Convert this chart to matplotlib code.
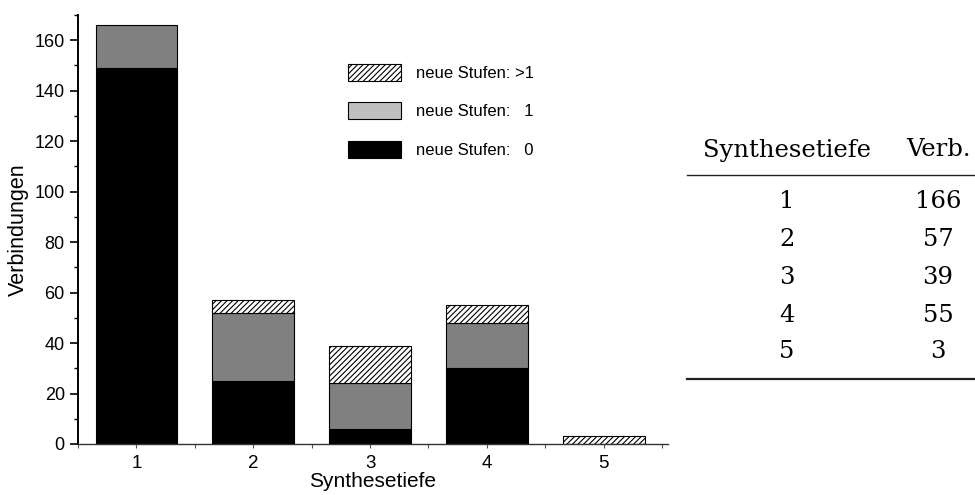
import matplotlib
matplotlib.use("Agg")
import matplotlib.pyplot as plt
from matplotlib.patches import Patch
from matplotlib.lines import Line2D
from matplotlib.ticker import MultipleLocator
import numpy as np

plt.rcParams['font.family'] = ['Liberation Sans', 'DejaVu Sans']
plt.rcParams['hatch.linewidth'] = 0.8

depths = [1, 2, 3, 4, 5]
steps0 = [149, 25, 6, 30, 0]      # neue Stufen: 0
steps1 = [17, 27, 18, 18, 0]      # neue Stufen: 1
steps_gt1 = [0, 5, 15, 7, 3]      # neue Stufen: >1
legend_labels = ["neue Stufen: >1", "neue Stufen:   1", "neue Stufen:   0"]
table_header = ["Synthesetiefe", "Verb."]
table_totals = [166, 57, 39, 55, 3]

fig = plt.figure(figsize=(9.75, 4.95), dpi=100)
ax = fig.add_axes([78/975, 1-444/495, 590/975, 429/495])

x = np.array(depths)
b0 = np.array(steps0)
b1 = np.array(steps1)
b2 = np.array(steps_gt1)
w = 0.7
ax.bar(x, b0, width=w, color='black', edgecolor='black', linewidth=0.8)
ax.bar(x, b1, width=w, bottom=b0, color='#808080', edgecolor='black', linewidth=0.8)
mask = b2 > 0
ax.bar(x[mask], b2[mask], width=w, bottom=(b0+b1)[mask], color='white',
       edgecolor='black', hatch='//////', linewidth=0.8)

ax.set_xlim(0.5, 5.55)
ax.set_ylim(0, 170)
ax.spines['top'].set_visible(False)
ax.spines['right'].set_visible(False)
ax.spines['left'].set_linewidth(1.4)
ax.spines['bottom'].set_linewidth(1.0)
ax.spines['bottom'].set_color('#333333')
ax.set_xticks(depths)
ax.xaxis.set_minor_locator(MultipleLocator(0.5))
ax.yaxis.set_major_locator(MultipleLocator(20))
ax.yaxis.set_minor_locator(MultipleLocator(10))
ax.tick_params(axis='y', which='major', length=6, width=1.2, labelsize=13, direction='out', pad=3.5)
ax.tick_params(axis='y', which='minor', length=3, width=1.0, direction='out')
ax.tick_params(axis='x', which='major', length=3, width=0.8, labelsize=13.5, direction='out', pad=5, color='#555555')
ax.tick_params(axis='x', which='minor', length=3, width=0.8, direction='out', color='#555555')
ax.set_xlabel("Synthesetiefe", fontsize=15, labelpad=0)
ax.set_ylabel("Verbindungen", fontsize=15.5, labelpad=4)

handles = [Patch(facecolor='white', edgecolor='black', hatch='//////', linewidth=0.8),
           Patch(facecolor='#c0c0c0', edgecolor='black', linewidth=0.8),
           Patch(facecolor='black', edgecolor='black', linewidth=0.8)]
fig.legend(handles, legend_labels, loc='upper left',
           bbox_to_anchor=(348/975, 1-64/495), bbox_transform=fig.transFigure,
           frameon=False, fontsize=12, handlelength=3.2, handleheight=1.2,
           labelspacing=1.27, handletextpad=0.85, borderpad=0, borderaxespad=0)

# Table on the right
serif = ['DejaVu Serif']
tfs = 17.5
col1_x = 787/975
col2_x = 938/975
fig.text(col1_x, 1-150/495, table_header[0], ha='center', va='center', fontsize=tfs, family=serif)
fig.text(col2_x, 1-150/495, table_header[1], ha='center', va='center', fontsize=tfs, family=serif)
row_y = [202, 240, 277, 315, 352]
for d, tot, yy in zip(depths, table_totals, row_y):
    fig.text(col1_x, 1-yy/495, str(d), ha='center', va='center', fontsize=tfs, family=serif)
    fig.text(col2_x, 1-yy/495, str(tot), ha='center', va='center', fontsize=tfs, family=serif)
fig.add_artist(Line2D([687/975, 1.0], [1-175/495, 1-175/495], transform=fig.transFigure,
                      color='#222222', linewidth=1.0))
fig.add_artist(Line2D([687/975, 1.0], [1-379/495, 1-379/495], transform=fig.transFigure,
                      color='#222222', linewidth=1.6))

fig.savefig("out.png", dpi=100)
